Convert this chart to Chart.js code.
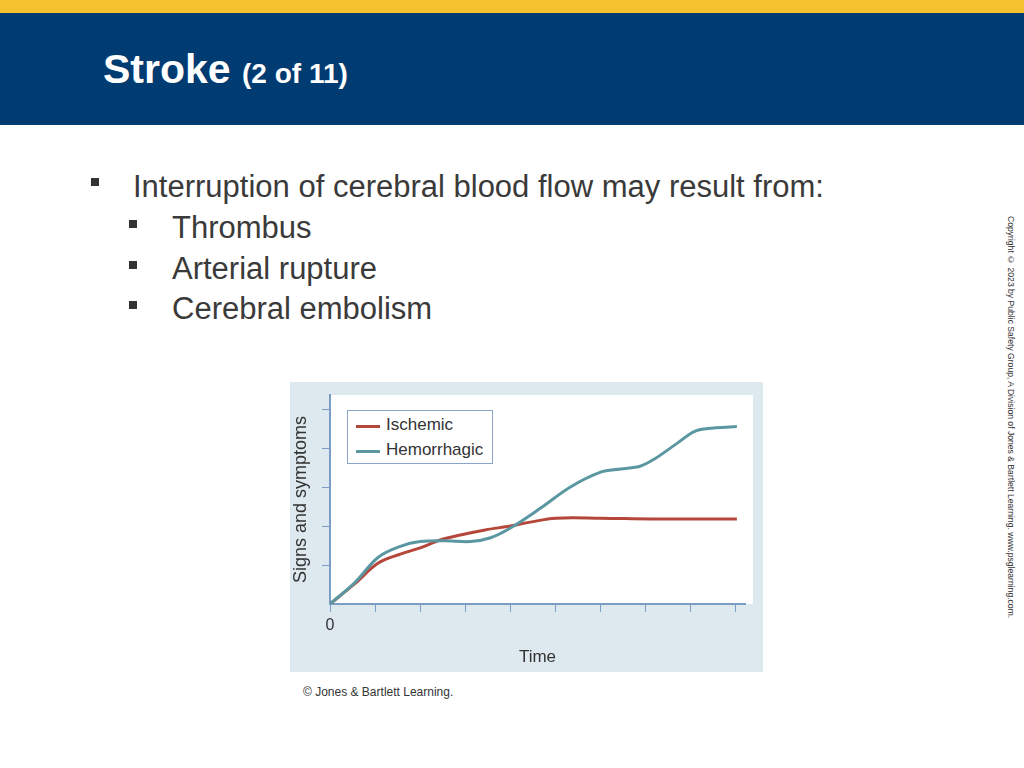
<!DOCTYPE html><html><head><meta charset="utf-8">
<script src="https://cdn.jsdelivr.net/npm/chart.js@4"></script>
<style>
body{margin:0;width:1024px;height:768px;position:relative;background:#fff;font-family:"Liberation Sans",Arial,sans-serif;overflow:hidden}
#stripe{position:absolute;left:0;top:0;width:1024px;height:13px;background:#f5c12e}
#hdr{position:absolute;left:0;top:13px;width:1024px;height:112px;background:#003b71}
#title{position:absolute;left:103px;top:46px;color:#fff;font-weight:bold;font-size:41px}
#title span{font-size:28px}
.b{position:absolute;color:#3a3a3a;font-size:31px}
.sq{position:absolute;width:8px;height:8px;background:#333}
#copy{position:absolute;left:1006px;top:216px;writing-mode:vertical-rl;font-size:8.6px;color:#333}
#cap{position:absolute;left:303px;top:685px;font-size:12px;color:#333}
#wrap{position:absolute;left:290px;top:382px;width:473px;height:290px}
#leg{position:absolute;left:347px;top:410px;width:144px;height:52px;border:1px solid #8aa5c8;background:#fff;font-size:17px;color:#333}
#leg div{position:absolute;left:0;height:20px}
#leg i{position:absolute;left:8px;top:10px;width:24px;height:3px}
#leg b{position:absolute;left:38px;font-weight:normal;white-space:nowrap}
</style></head><body>
<div id="stripe"></div><div id="hdr"></div>
<div id="title">Stroke <span>(2 of 11)</span></div>
<div class="sq" style="left:91px;top:178px"></div><div class="b" style="left:133px;top:169px">Interruption of cerebral blood flow may result from:</div>
<div class="sq" style="left:129px;top:220px"></div><div class="b" style="left:172px;top:210px">Thrombus</div>
<div class="sq" style="left:129px;top:261px"></div><div class="b" style="left:172px;top:251px">Arterial rupture</div>
<div class="sq" style="left:129px;top:301px"></div><div class="b" style="left:172px;top:291px">Cerebral embolism</div>
<div id="copy">Copyright © 2023 by Public Safety Group, A Division of Jones &amp; Bartlett Learning. www.psglearning.com.</div>
<div id="wrap"><canvas id="c" width="473" height="290"></canvas></div>
<div id="leg"><div style="top:4px"><i style="background:#b5473a"></i><b>Ischemic</b></div><div style="top:29px"><i style="background:#5a97a1"></i><b>Hemorrhagic</b></div></div>
<div id="cap">© Jones &amp; Bartlett Learning.</div>
<script>
const hemX=[0,0.55,1.07,1.56,2,2.56,3.11,3.56,4,4.67,5.33,6,6.44,6.89,7.22,7.67,8.11,8.56,9.02];
const hemY=[0,0.55,1.2,1.48,1.6,1.62,1.6,1.7,1.95,2.46,3.0,3.38,3.46,3.54,3.74,4.1,4.44,4.52,4.55];
const isX=[0,0.55,1.07,1.56,2,2.44,2.89,3.44,4,4.44,5,6,7.11,9.02];
const isY=[0,0.52,1.05,1.28,1.44,1.64,1.77,1.9,2.0,2.1,2.2,2.2,2.18,2.18];
const pts=(xs,ys)=>xs.map((x,i)=>({x,y:ys[i]}));
const bg={id:'bg',beforeDraw(c){const g=c.ctx,a=c.chartArea;g.save();g.fillStyle='#dde9ef';g.fillRect(0,0,c.width,c.height);g.fillStyle='#fff';g.fillRect(a.left,a.top,a.right-a.left+8,a.bottom-a.top);g.restore();}};
new Chart(document.getElementById('c'),{type:'scatter',plugins:[bg],
data:{datasets:[
{label:'Hemorrhagic',data:pts(hemX,hemY),showLine:true,borderColor:'#5a97a1',borderWidth:3,pointRadius:0,tension:0.35},
{label:'Ischemic',data:pts(isX,isY),showLine:true,borderColor:'#b5473a',borderWidth:3,pointRadius:0,tension:0.35}]},
options:{responsive:false,animation:false,layout:{padding:{top:13,right:18}},
plugins:{legend:{display:false},tooltip:{enabled:false}},
scales:{
x:{type:'linear',min:0,max:9.2,afterFit(s){s.height=68;},afterBuildTicks(s){s.ticks=[0,1,2,3,4,5,6,7,8,9].map(v=>({value:v}));},
border:{color:'#7b9dc4',width:2},grid:{drawOnChartArea:false,tickLength:8,color:'#7b9dc4'},
ticks:{callback:v=>v===0?'0':'',color:'#333',font:{size:16,family:'Liberation Sans'},maxRotation:0,padding:4},
title:{display:true,text:'Time',color:'#333',font:{size:17,family:'Liberation Sans'},padding:{top:6}}},
y:{min:0,max:5.36,afterFit(s){s.width=40;},afterBuildTicks(s){s.ticks=[1,2,3,4,5].map(v=>({value:v}));},
border:{color:'#7b9dc4',width:2},grid:{drawOnChartArea:false,tickLength:8,color:'#7b9dc4'},
ticks:{callback:()=>'',padding:0},
title:{display:true,text:'Signs and symptoms',color:'#333',font:{size:18,family:'Liberation Sans'},padding:{top:0,bottom:4}}}}}});
</script></body></html>
